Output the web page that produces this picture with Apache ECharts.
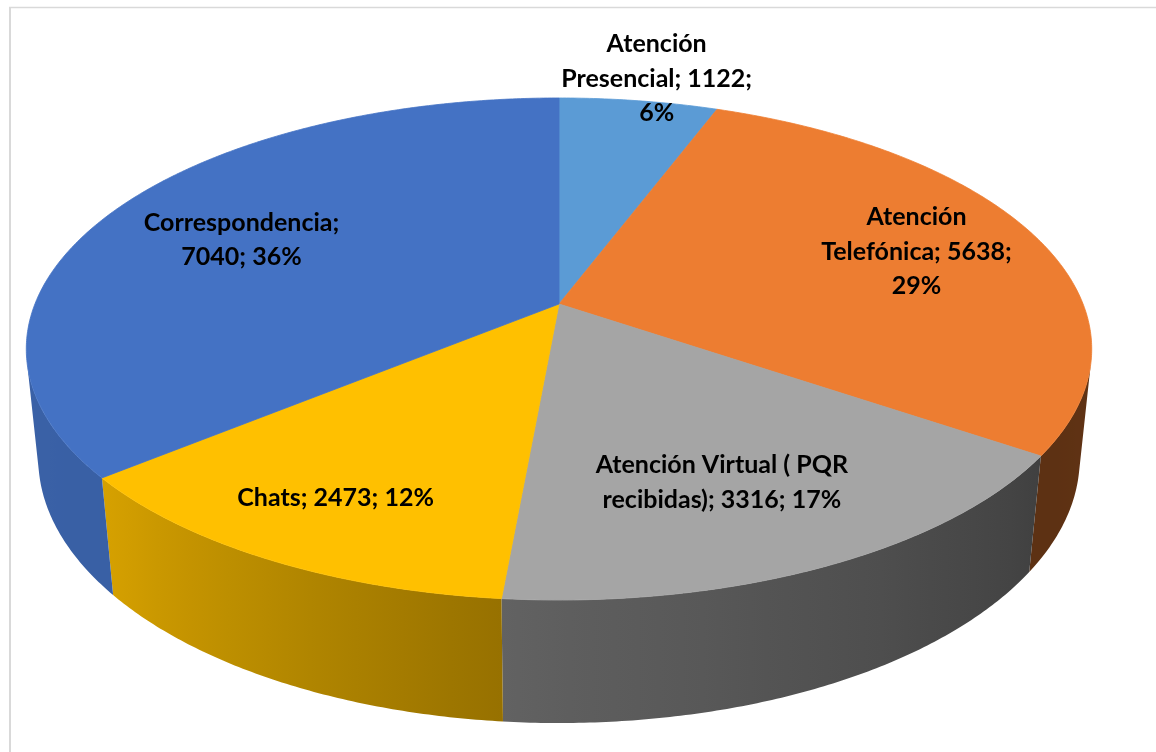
<!DOCTYPE html>
<html><head><meta charset="utf-8">
<script src="https://cdn.jsdelivr.net/npm/echarts@6/dist/echarts.min.js"></script>
<style>html,body{margin:0;padding:0;background:#fff}#c{width:1156px;height:752px}</style>
</head><body><div id="c"></div>
<script>
// ---- data ----
const categories = ['Atención Presencial', 'Atención Telefónica', 'Atención Virtual ( PQR recibidas)', 'Chats', 'Correspondencia'];
const values = [1122, 5638, 3316, 2473, 7040];
const percentLabels = ['6%', '29%', '17%', '12%', '36%'];

// ---- style / layout ----
const colors = ['#5B9BD5', '#ED7D31', '#A5A5A5', '#FFC000', '#4472C4'];
const CX = 559, CY = 304, F = 2590, DIST = 4.942, ALPHA = 27.62 * Math.PI / 180, H = 0.2375;
const labelRadius = [1.15, 0.74, 0.70, 0.79, 0.69];
const labelShift = [[8, 3], [2, 0], [-14, 5], [-2, 0], [-7, 4]];
const labelLines = [[1, 2, 1], [1, 2, 1], [4, 3], [3], [1, 2]];
const shadePts = [[90, 0.42], [124, 0.39], [185, 0.59], [230, 0.84], [270, 0.86]];

const SA = Math.sin(ALPHA), CA = Math.cos(ALPHA);
function proj(x, y, z) {
  const dc = y * CA + z * SA, u = z * CA - y * SA, d = DIST - dc;
  return [CX + F * x / d, CY - F * u / d];
}
function pt(th, r, z) { return proj(r * Math.sin(th), -r * Math.cos(th), z); }
const VMIN = Math.acos(-1 / (DIST * CA)), VMAX = 2 * Math.PI - VMIN;
function shadeFactor(th) {
  const deg = th * 180 / Math.PI;
  if (deg <= shadePts[0][0]) return shadePts[0][1];
  for (let k = 1; k < shadePts.length; k++) {
    if (deg <= shadePts[k][0]) {
      const [d0, f0] = shadePts[k - 1], [d1, f1] = shadePts[k];
      return f0 + (f1 - f0) * (deg - d0) / (d1 - d0);
    }
  }
  return shadePts[shadePts.length - 1][1];
}
function shade(hex, f) {
  const r = parseInt(hex.slice(1, 3), 16), g = parseInt(hex.slice(3, 5), 16), b = parseInt(hex.slice(5, 7), 16);
  return 'rgb(' + Math.round(r * f) + ',' + Math.round(g * f) + ',' + Math.round(b * f) + ')';
}
const total = values.reduce((a, b) => a + b, 0);

function renderItem(params, api) {
  const i = params.dataIndex;
  let cum = 0;
  for (let k = 0; k < i; k++) cum += values[k];
  const v = api.value(0);
  const a0 = cum / total * 2 * Math.PI, a1 = (cum + v) / total * 2 * Math.PI;
  const children = [];
  const step = Math.PI / 360;
  // top face
  const topPts = [proj(0, 0, 0)];
  const n = Math.max(2, Math.ceil((a1 - a0) / step));
  for (let j = 0; j <= n; j++) topPts.push(pt(a0 + (a1 - a0) * j / n, 1, 0));
  children.push({ type: 'polygon', shape: { points: topPts }, style: { fill: colors[i], stroke: colors[i], lineWidth: 0.8 }, z2: 10 });
  // outer side
  const s0 = Math.max(a0, VMIN), s1 = Math.min(a1, VMAX);
  if (s1 > s0) {
    const m = Math.max(2, Math.ceil((s1 - s0) / step));
    const top = [], bot = [];
    for (let j = 0; j <= m; j++) {
      const th = s0 + (s1 - s0) * j / m;
      top.push(pt(th, 1, 0)); bot.push(pt(th, 1, -H));
    }
    const pts = top.concat(bot.slice().reverse());
    const xs = pts.map(p => p[0]);
    const minX = Math.min.apply(null, xs), maxX = Math.max.apply(null, xs);
    const stops = [];
    for (let j = 0; j <= 10; j++) {
      const th = s0 + (s1 - s0) * j / 10;
      const x = pt(th, 1, 0)[0];
      stops.push({ offset: Math.min(1, Math.max(0, (x - minX) / (maxX - minX))), color: shade(colors[i], shadeFactor(th)) });
    }
    stops.sort((p, q) => p.offset - q.offset);
    children.push({ type: 'polygon', shape: { points: pts },
      style: { fill: { type: 'linear', x: 0, y: 0, x2: 1, y2: 0, colorStops: stops } }, z2: 1 });
  }
  // label
  const words = (categories[i] + '; ' + v + '; ' + percentLabels[i]).split(' ');
  const lines = []; let w = 0;
  labelLines[i].forEach(c => { lines.push(words.slice(w, w + c).join(' ')); w += c; });
  const mid = (a0 + a1) / 2;
  const lp = pt(mid, labelRadius[i], 0);
  children.push({ type: 'text', x: lp[0] + labelShift[i][0], y: lp[1] + labelShift[i][1],
    style: { text: lines.join('\n'), fontFamily: 'Lato', fontWeight: 'bold', fontSize: 25, fill: '#000',
      align: 'center', verticalAlign: 'middle', lineHeight: 34.5 }, z2: 30 });
  return { type: 'group', children };
}

const chart = echarts.init(document.getElementById('c'));
chart.setOption({
  animation: false,
  graphic: [
    { type: 'line', shape: { x1: 9, y1: 7.5, x2: 1156, y2: 7.5 }, style: { stroke: '#d9d9d9', lineWidth: 1.5 } },
    { type: 'line', shape: { x1: 10, y1: 7, x2: 10, y2: 752 }, style: { stroke: '#d9d9d9', lineWidth: 2 } }
  ],
  series: [{
    type: 'custom', coordinateSystem: 'none', silent: true,
    data: values.map((v, i) => ({ value: [v], name: categories[i] })),
    renderItem
  }]
});
</script></body></html>
